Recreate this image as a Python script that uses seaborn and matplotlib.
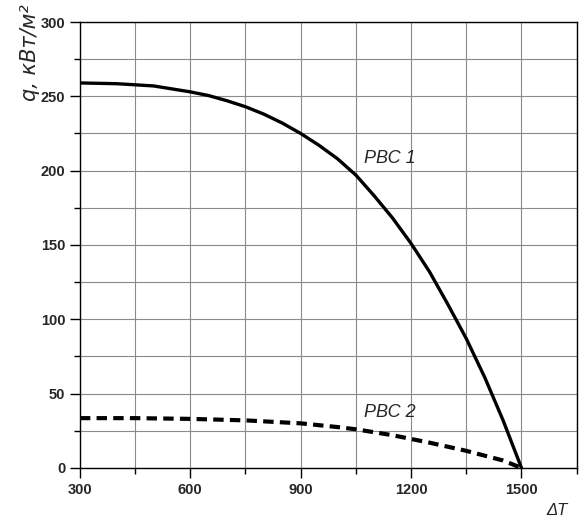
import matplotlib
matplotlib.use("Agg")
import matplotlib.pyplot as plt
import matplotlib.ticker as mticker
import seaborn as sns
import pandas as pd

# ── data ───────────────────────────────────────────────────────────────────
dt_1 = [300, 400, 500, 550, 600, 650, 700, 750, 800, 850, 900, 950, 1000,
        1050, 1100, 1150, 1200, 1250, 1300, 1350, 1400, 1450, 1475, 1500]
q_1 = [259, 258.5, 257, 255, 253, 250.5, 247, 243, 238, 232, 225, 217, 208,
       197, 183, 168, 151, 132, 110, 87, 61, 32, 16, 0]

dt_2 = [300, 450, 600, 750, 900, 1000, 1050, 1150, 1250, 1350, 1450, 1500]
q_2 = [33.5, 33.5, 33, 32, 30, 27.5, 26, 22, 17, 11.5, 5, 0]

series_labels = ["РВС 1", "РВС 2"]
x_ticks = [300, 600, 900, 1200, 1500]
y_ticks = [0, 50, 100, 150, 200, 250, 300]

sns.set_style("white")
plt.rcParams["font.family"] = ["Liberation Sans", "DejaVu Sans"]

df = pd.concat([
    pd.DataFrame({"dT": dt_1, "q": q_1, "series": series_labels[0]}),
    pd.DataFrame({"dT": dt_2, "q": q_2, "series": series_labels[1]}),
])

fig = plt.figure(figsize=(5.79, 5.24), dpi=100)
ax = fig.add_axes([0.138, 0.107, 0.858, 0.851])

sns.lineplot(data=df[df["series"] == series_labels[0]], x="dT", y="q",
             color="black", linewidth=2.4, ax=ax, legend=False)
sns.lineplot(data=df[df["series"] == series_labels[1]], x="dT", y="q",
             color="black", linewidth=3.0, ax=ax, legend=False)
ax.lines[0].set_solid_joinstyle("round")
ax.lines[1].set_dashes((2.5, 1.5))

ax.set_xlim(300, 1650)
ax.set_ylim(0, 300)
ax.set_xticks(x_ticks)
ax.set_yticks(y_ticks)
ax.xaxis.set_minor_locator(mticker.MultipleLocator(150))
ax.yaxis.set_minor_locator(mticker.MultipleLocator(25))

ax.grid(which="both", color="#8a8a8a", linewidth=0.8)
ax.set_axisbelow(True)
for sp in ax.spines.values():
    sp.set_color("black")
    sp.set_linewidth(1.0)

ax.tick_params(which="major", direction="out", length=7, width=1,
               color="black", left=True, bottom=True, labelsize=10.5)
ax.tick_params(which="minor", direction="out", length=4, width=1,
               color="black", left=True, bottom=True)
for lbl in ax.get_xticklabels() + ax.get_yticklabels():
    lbl.set_fontweight("bold")

ax.set_xlabel("")
ax.set_ylabel("")
fig.text(30 / 579, 1 - 4 / 524, "q, кВт/м²", fontsize=15, style="oblique",
         family="DejaVu Sans", rotation=90, ha="center", va="top")
ax.text(0.96, -0.095, "ΔT", transform=ax.transAxes, fontsize=12,
        style="italic", ha="center", va="center")

ax.text(1072, 208, series_labels[0], fontsize=13, style="italic",
        ha="left", va="center")
ax.text(1072, 37, series_labels[1], fontsize=13, style="italic",
        ha="left", va="center")

plt.savefig("out.png", dpi=100)
plt.close()
